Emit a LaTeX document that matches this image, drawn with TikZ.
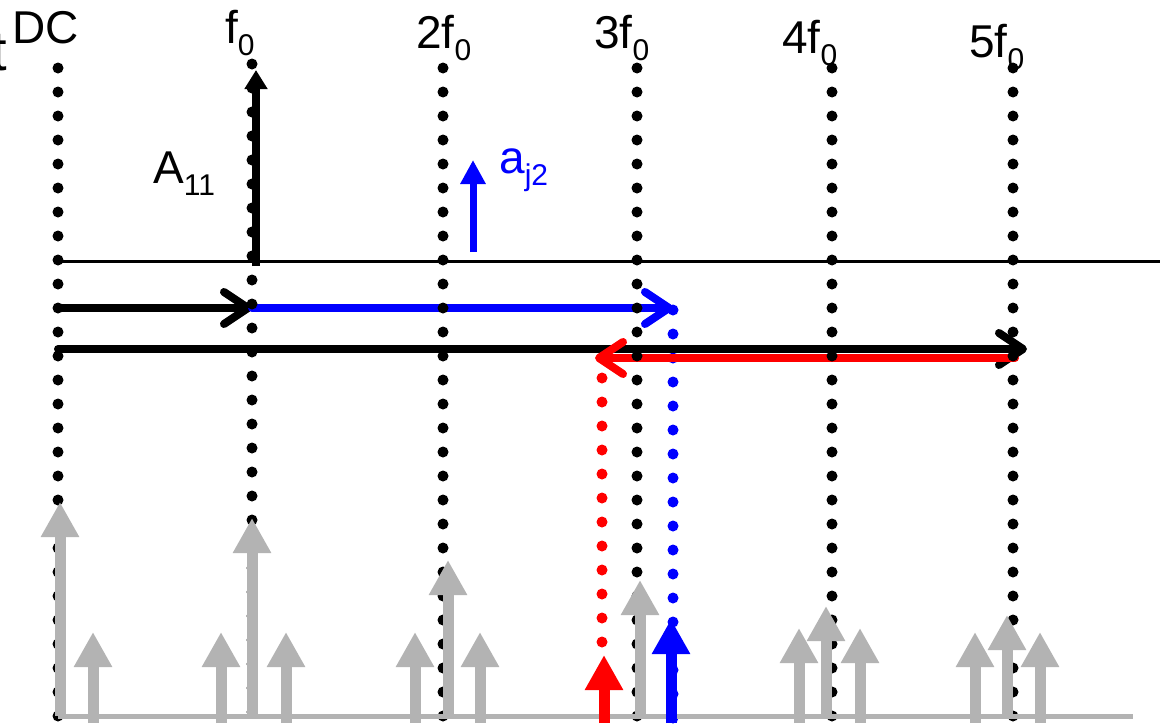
\documentclass[tikz,border=0pt]{standalone}
\usepackage{fontspec}
\setmainfont{Liberation Sans}
\usetikzlibrary{arrows.meta}
\definecolor{garr}{RGB}{179,179,179}
\definecolor{pblue}{RGB}{0,0,255}
\definecolor{pred}{RGB}{255,0,0}
\newcommand\mysub[1]{\raisebox{-12pt}{\fontsize{30}{30}\selectfont #1}}
\begin{document}
\begin{tikzpicture}[x=1pt,y=-1pt,
  lbl/.style={anchor=base west, inner sep=0pt, font=\fontsize{46}{50}\selectfont},
  dotcol/.style={line width=11pt, line cap=round, dash pattern=on 0pt off 24pt},
  chev/.style={line width=8pt, line cap=round, -{Straight Barb[length=24pt,width=32pt,round]}},
  garrow/.style={garr, line width=11pt, -{Triangle[length=35pt,width=36pt]}},
  sarrow/.style={line width=11pt, -{Triangle[length=35pt,width=36pt]}}
]
\useasboundingbox (0,0) rectangle (1167,723);
\clip (0,0) rectangle (1167,723);

% labels
\node[lbl] (dcl) at (12,43) {DC};
\node[lbl] (f1l) at (225,43) {f\mysub{0}};
\node[lbl] (f2l) at (416,48) {2f\mysub{0}};
\node[lbl] (f3l) at (594,48) {3f\mysub{0}};
\node[lbl] (f4l) at (782,53) {4f\mysub{0}};
\node[lbl] (f5l) at (969,57) {5f\mysub{0}};
\node[lbl] (A11) at (153,183) {A\mysub{11}};
\node[lbl, text=pblue] (aj2) at (499,173) {a\mysub{j2}};
\node[anchor=base west, inner sep=0pt, font=\fontsize{56}{60}\selectfont] (tl) at (-9,70) {t};

% coloured dotted columns
\coordinate (bdTop) at (673,310); \coordinate (bdBot) at (673,718);
\coordinate (rdTop) at (602,378); \coordinate (rdBot) at (602,642);
\draw[dotcol, pblue] (bdTop) -- (bdBot);
\draw[dotcol, pred] (rdTop) -- (rdBot);

% thin reference line
\coordinate (hlA) at (58,261); \coordinate (hlB) at (1160,261);
\draw[line width=3pt] (hlA) -- (hlB);

% horizontal arrows
\coordinate (r1a) at (58,308); \coordinate (r1b) at (252,308); \coordinate (r1c) at (673,308);
\coordinate (r2a) at (58,349); \coordinate (r2b) at (1027,349);
\coordinate (r3a) at (1015,358); \coordinate (r3b) at (595,358);
\draw[chev] (r1a) -- (r1b);
\draw[chev, pblue] (r1b) -- (r1c);
\draw[chev] (r2a) -- (r2b);
\draw[chev, pred] (r3a) -- (r3b);

% black dotted columns
\foreach \n/\x/\ty in {dc/58/68, fa/252/64, fb/443/68, fc/637/68, fd/832/68, fe/1013/68}{
  \coordinate (\n top) at (\x,\ty);
  \coordinate (\n bot) at (\x,716);
  \draw[dotcol] (\n top) -- (\n bot);
}

% gray base line
\coordinate (bl1) at (58,716); \coordinate (bl2) at (1133,716);
\draw[garr, line width=5pt] (bl1) -- (bl2);

% gray spectral arrows
\foreach \x/\y/\b in {60/502/716, 252/518/716, 448/560/716, 640/580/716, 826/606/716, 1007/615/716,
  93/632/723, 221/632/723, 286/632/723, 415/632/723, 480/632/723, 799/628/723, 860/628/723, 975/632/723, 1040/632/723}{
  \coordinate (gb) at (\x,\b); \coordinate (gt) at (\x,\y);
  \draw[garrow] (gb) -- (gt);
}

% red and blue bottom arrows
\coordinate (rb) at (604,723); \coordinate (rt) at (604,655);
\draw[sarrow, pred] (rb) -- (rt);
\coordinate (bb) at (671,723); \coordinate (bt) at (671,619);
\draw[sarrow, pblue] (bb) -- (bt);

% A11 arrow
\coordinate (Ab) at (256,266); \coordinate (At) at (256,70);
\draw[line width=8pt, -{Triangle[length=19pt,width=22pt]}] (Ab) -- (At);

% aj2 arrow
\coordinate (ajb) at (473,252); \coordinate (ajt) at (473,160);
\draw[pblue, line width=7pt, -{Triangle[length=24pt,width=24pt]}] (ajb) -- (ajt);
\end{tikzpicture}
\end{document}
